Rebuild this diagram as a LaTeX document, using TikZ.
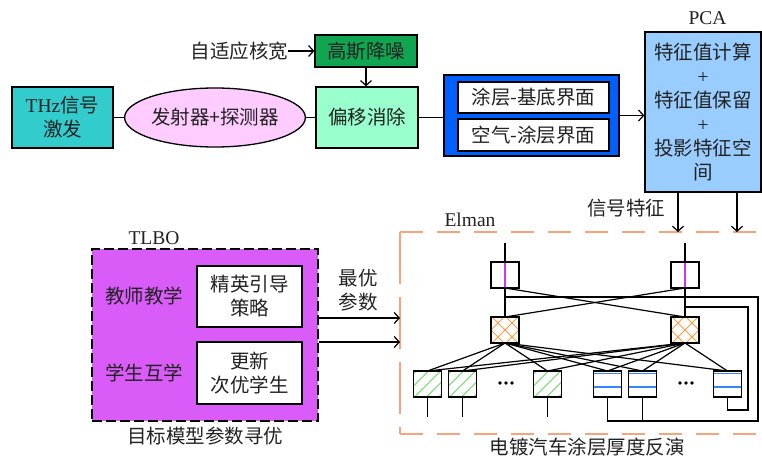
\documentclass[tikz,border=0pt]{standalone}
\usepackage{fontspec}
\setmainfont{Noto Sans CJK SC}
\newfontfamily\latfont{Liberation Serif}
\newcommand\lat[1]{{\latfont #1}}
\usetikzlibrary{arrows.meta,shapes.geometric,calc}
\definecolor{thzc}{HTML}{33CCCC}
\definecolor{pinkc}{HTML}{FFCCFF}
\definecolor{offc}{HTML}{99FFCC}
\definecolor{gausc}{HTML}{10A550}
\definecolor{bluec}{HTML}{0060FF}
\definecolor{pcac}{HTML}{99CCFF}
\definecolor{tlboc}{HTML}{DA5CF8}
\definecolor{elc}{HTML}{F8A47A}
\definecolor{hatcho}{HTML}{FF9A40}
\definecolor{hatchg}{HTML}{66DD66}
\definecolor{ctxb}{HTML}{3388FF}
\definecolor{magc}{HTML}{CC33FF}
\definecolor{txt}{HTML}{222222}
\tikzset{
  box/.style={draw=black, line width=1.3pt, inner sep=0pt, align=center},
  ln/.style={line width=1.2pt},
  arr/.style={line width=1.2pt, -{Straight Barb[length=5pt,width=11pt]}},
  nn/.style={draw, line width=1.2pt, minimum width=28pt, minimum height=26pt, inner sep=0pt, outer sep=0pt},
  lbl/.style={inner sep=0pt, align=center},
  frame/.style={draw=elc, line width=1.5pt},
}
\newcommand\hatchNE[2]{%
  \begin{scope}
    \clip (#1.south west) rectangle (#1.north east);
    \foreach \d in {-36,-24,...,36}
      \draw[#2, line width=1pt] ($(#1.center)+(\d-20,20)$) -- ($(#1.center)+(\d+20,-20)$);
  \end{scope}}
\newcommand\hatchX[2]{%
  \begin{scope}
    \clip (#1.south west) rectangle (#1.north east);
    \foreach \d in {-28,-14,...,28} {
      \draw[#2, line width=1pt] ($(#1.center)+(\d-20,20)$) -- ($(#1.center)+(\d+20,-20)$);
      \draw[#2, line width=1pt] ($(#1.center)+(\d-20,-20)$) -- ($(#1.center)+(\d+20,20)$);
    }
  \end{scope}}
\begin{document}
\begin{tikzpicture}[x=1pt,y=-1pt,font=\fontsize{19.5}{24}\selectfont, text=txt]
\useasboundingbox (0,0) rectangle (762,460);
% top row
\node[box, fill=thzc, minimum width=101pt, minimum height=61pt] (thz) at (62.5,117.5) {\lat{THz}信号\\激发};
\node[box, ellipse, fill=pinkc, minimum width=154pt, minimum height=59pt] (tx) at (215,117.5) {发射器+探测器};
\node[box, fill=offc, minimum width=102pt, minimum height=61pt] (off) at (367,117.5) {偏移消除};
\node[box, fill=gausc, minimum width=102pt, minimum height=32pt] (gauss) at (366,51) {高斯降噪};
\node[lbl] (akw) at (239.5,51) {自适应核宽};
\node[box, fill=bluec, minimum width=175pt, minimum height=81pt] (iface) at (531.5,115.5) {};
\node[box, fill=white, minimum width=151pt, minimum height=31pt] (if1) at (533.5,97.5) {涂层-基底界面};
\node[box, fill=white, minimum width=151pt, minimum height=32pt] (if2) at (533.5,135) {空气-涂层界面};
\node[box, fill=pcac, minimum width=116pt, minimum height=160pt] (pca) at (703,112) {特征值计算\\\lat{+}\\特征值保留\\\lat{+}\\投影特征空\\间};
\node[lbl] (pcat) at (707.5,18) {\lat{PCA}};
\node[lbl] (sig) at (626,208) {信号特征};

\draw[ln] (thz) -- (tx);
\draw[ln] (tx) -- (off);
\draw[ln] (off.east) -- (off.east -| iface.west);
\draw[arr] (iface.east) -- (iface.east -| pca.west);
\draw[arr] (akw) -- (gauss);
\draw[arr] (gauss.south) -- (gauss.south |- off.north);

% Elman frame
\coordinate (e1) at (678,232);
\coordinate (e2) at (737,232);
\draw[frame, dash pattern=on 23pt off 14pt] (400,232) -- (766,232);
\draw[frame, dash pattern=on 23pt off 14pt] (400,434) -- (766,434);
\draw[frame, dash pattern=on 52pt off 13pt] (400,232) -- (400,434);
\draw[arr] (pca.south -| e1) -- (e1);
\draw[arr] (pca.south -| e2) -- (e2);
\node[lbl] (elman) at (470,220) {\lat{Elman}};
\node[lbl] (inv) at (587,447) {电镀汽车涂层厚度反演};

% TLBO
\node[draw, dash pattern=on 10pt off 4pt, line width=1.8pt, fill=tlboc, minimum width=226pt, minimum height=172pt, inner sep=0pt] (tlbo) at (205,335) {};
\node[lbl] (tlbot) at (154,238) {\lat{TLBO}};
\node[box, fill=white, minimum width=105pt, minimum height=61pt] (elite) at (249.5,296.5) {精英引导\\策略};
\node[box, fill=white, minimum width=105pt, minimum height=62pt] (upd) at (249.5,373) {更新\\次优学生};
\node[lbl] (teach) at (144,296) {教师教学};
\node[lbl] (learn) at (144,373) {学生互学};
\node[lbl] (goal) at (205,436) {目标模型参数寻优};
\node[lbl] (best) at (358,290) {最优\\参数};
\coordinate (a1) at (400,318);
\coordinate (a2) at (400,342);
\draw[arr] (tlbo.east |- a1) -- (a1);
\draw[arr] (tlbo.east |- a2) -- (a2);

% network nodes
\node[nn] (in1) at (505,275) {};
\node[nn] (in2) at (685,275) {};
\node[nn] (h1) at (505,330) {};
\node[nn] (h2) at (685,330) {};
\node[nn] (g1) at (427.5,384) {};
\node[nn] (g2) at (462.5,384) {};
\node[nn] (g3) at (547.5,384) {};
\node[nn] (c1) at (607.5,384) {};
\node[nn] (c2) at (642.5,384) {};
\node[nn] (c3) at (727.5,384) {};

\draw[magc, line width=1.6pt] (in1.north) -- (in1.south);
\draw[magc, line width=1.6pt] (in2.north) -- (in2.south);
\draw[magc, line width=1.6pt] (in2.north west) -- (in2.south west);
\draw[line width=1.2pt] (in1.south west) rectangle (in1.north east);
\draw[line width=1.2pt] (in2.south west) rectangle (in2.north east);

\hatchX{h1}{hatcho}
\hatchX{h2}{hatcho}
\foreach \n in {g1,g2,g3} {\hatchNE{\n}{hatchg}}
\foreach \n in {c1,c2,c3} {
  \draw[ctxb, line width=1.5pt] ($(\n.north west)+(0,2.5)$) -- ($(\n.north east)+(0,2.5)$);
  \draw[ctxb, line width=1.5pt] ($(\n.north west)+(0,16)$) -- ($(\n.north east)+(0,16)$);
}
\foreach \n in {h1,h2,g1,g2,g3,c1,c2,c3} {\draw[line width=1.2pt] (\n.south west) rectangle (\n.north east);}

% dots
\foreach \x in {500,506,512} {\fill (\x,383) circle (1.9pt); \fill (\x+180,383) circle (1.9pt);}

% connections
\coordinate (t1) at (505,243);
\coordinate (t2) at (685,243);
\draw[ln] (t1) -- (in1.north);
\draw[ln] (t2) -- (in2.north);
\draw[ln] (in1.south) -- (h1.north);
\draw[ln] (in2.south) -- (h2.north);
\draw[ln] (in1.south) -- (h2.north);
\draw[ln] (in2.south) -- (h1.north);
\foreach \h in {h1,h2} \foreach \o in {g1,g2,g3,c1,c2,c3} {\draw[ln] (\h.south) -- (\o.north);}
\foreach \o in {g1,g2,g3} {\draw[ln] (\o.south) -- ++(0,20);}
\coordinate (fb1) at (505,297);
\coordinate (fb2) at (685,307);
\draw[ln] (fb1) -- (758,297) -- (758,421) -- (c1.south |- 0,421) -- (c1.south);
\draw[ln] (c2.south) -- (c2.south |- 0,421);
\draw[ln] (fb2) -- (748,307) -- (748,410) -- (c3.south |- 0,410) -- (c3.south);
\end{tikzpicture}
\end{document}
